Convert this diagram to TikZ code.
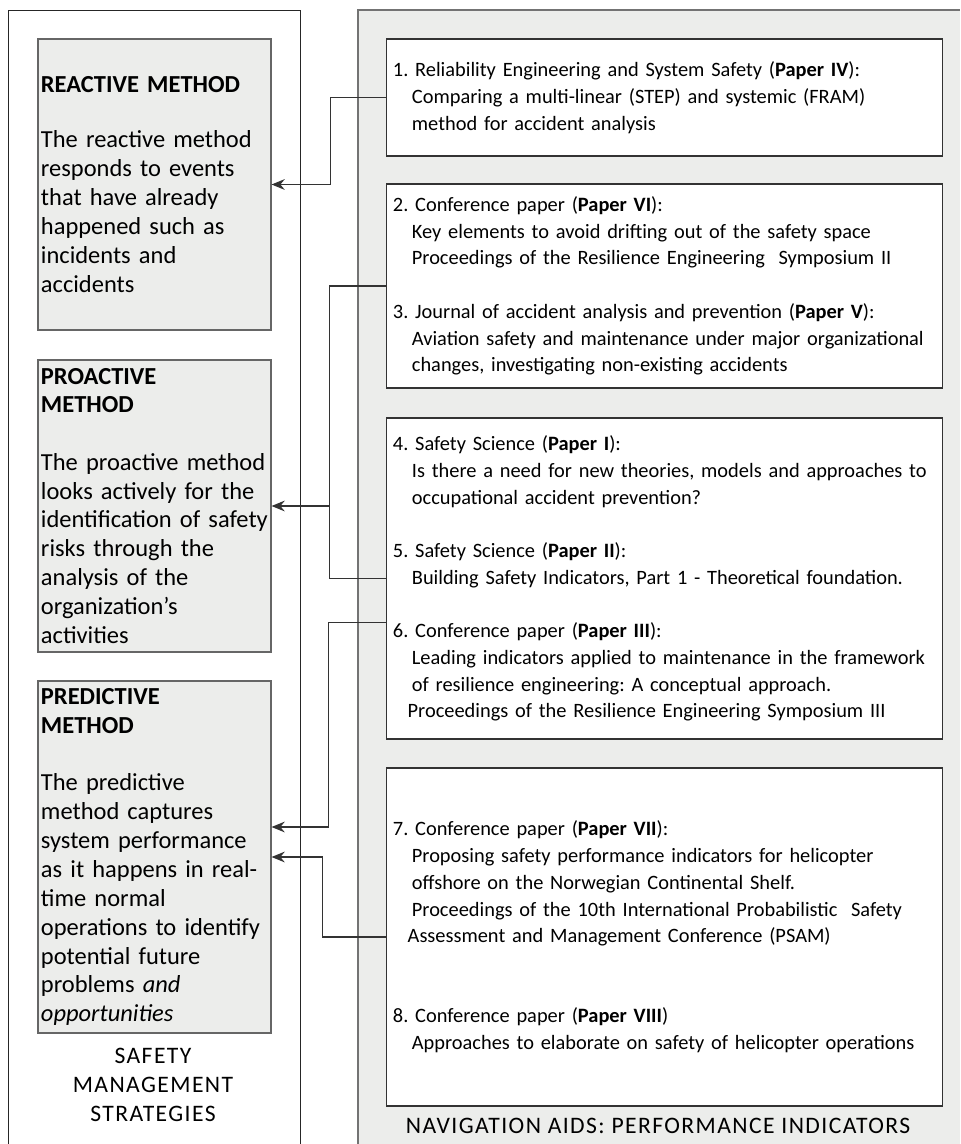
\documentclass[tikz,border=0pt]{standalone}
\usepackage{fontspec}
\setmainfont{Carlito}
\usetikzlibrary{arrows.meta,calc}
\definecolor{panelgray}{RGB}{236,237,235}
\newcommand{\pind}{\hspace*{13.5pt}}
\newcommand{\pindsm}{\hspace*{10.5pt}}
\frenchspacing
\tikzset{
  strategy/.style={draw=black!60, fill=panelgray, line width=0.8pt,
    minimum width=5.825cm, text width=5.675cm, inner sep=0.075cm, align=left,
    font=\fontsize{17.4}{20.6}\selectfont},
  paper/.style={draw=black!80, fill=white, line width=0.8pt,
    minimum width=13.875cm, text width=13.575cm, inner xsep=0.15cm, align=left,
    font=\fontsize{14.5}{19}\selectfont},
  caption/.style={align=center, inner sep=0pt,
    font={\fontsize{16.8}{20.6}\selectfont\addfontfeatures{LetterSpace=6}}},
  link/.style={draw=black!80, line width=0.75pt},
  arr/.style={link, -{Stealth[length=0.33cm, width=0.27cm, inset=0.11cm]}}
}
\begin{document}
\begin{tikzpicture}[x=0.025cm,y=-0.025cm]
    \useasboundingbox (0,0) rectangle (960,1144);
    % frames
    \fill[panelgray] (358,10) rectangle (960,1144);
    \draw[black!55, line width=0.8pt] (358,1144) -- (358,10) -- (960,10);
    \draw[black!85, line width=0.7pt] (8,1144) -- (8,10) -- (300,10) -- (300,1144);
    % strategies
    \node[strategy, minimum height=7.275cm] (re) at (154.5,184.5)
      {\textbf{REACTIVE METHOD}\\[19pt]
       The reactive method\\ responds to events\\ that have already\\
       happened such as\\ incidents and\\ accidents};
    \node[strategy, minimum height=7.3cm] (pr) at (154.5,506)
      {\textbf{PROACTIVE}\\ \textbf{METHOD}\\[20pt]
       The proactive method\\ looks actively for the\\ identification of safety\\
       risks through the\\ analysis of the\\ organization’s\\ activities};
    \node[strategy, minimum height=8.8cm] (pd) at (154.5,857)
      {\textbf{PREDICTIVE}\\ \textbf{METHOD}\\[20pt]
       The predictive\\ method captures\\ system performance\\ as it happens in real-\\
       time normal\\ operations to identify\\ potential future\\ problems \textit{and}\\
       \textit{opportunities}};
    \node[caption] (sms) at (153,1085) {SAFETY\\ MANAGEMENT\\ STRATEGIES};
    % papers
    \node[paper, minimum height=2.925cm] (b1) at (664.5,97.5)
      {1. Reliability Engineering and System Safety (\textbf{Paper IV}):\\
       \pind Comparing a multi-linear (STEP) and systemic (FRAM)\\
       \pind method for accident analysis};
    \node[paper, minimum height=5.1cm] (b2) at (664.5,286)
      {2. Conference paper (\textbf{Paper VI}):\\
       \pind Key elements to avoid drifting out of the safety space\\
       \pind Proceedings of the Resilience Engineering\ \ Symposium II\\[19pt]
       3. Journal of accident analysis and prevention (\textbf{Paper V}):\\
       \pind Aviation safety and maintenance under major organizational\\
       \pind changes, investigating non-existing accidents};
    \node[paper, minimum height=8.025cm] (b3) at (664.5,578.5)
      {4. Safety Science (\textbf{Paper I}):\\
       \pind Is there a need for new theories, models and approaches to\\
       \pind occupational accident prevention?\\[19pt]
       5. Safety Science (\textbf{Paper II}):\\
       \pind Building Safety Indicators, Part 1 - Theoretical foundation.\\[19pt]
       6. Conference paper (\textbf{Paper III}):\\
       \pind Leading indicators applied to maintenance in the framework\\
       \pind of resilience engineering: A conceptual approach.\\
       \pindsm Proceedings of the Resilience Engineering Symposium III};
    \node[paper, minimum height=8.45cm] (b4) at (664.5,937)
      {7. Conference paper (\textbf{Paper VII}):\\
       \pind Proposing safety performance indicators for helicopter\\
       \pind offshore on the Norwegian Continental Shelf.\\
       \pind Proceedings of the 10th International Probabilistic\ \ Safety\\
       \pindsm Assessment and Management Conference (PSAM)\\[38pt]
       8. Conference paper (\textbf{Paper VIII})\\
       \pind Approaches to elaborate on safety of helicopter operations};
    \node[caption] (nav) at (658,1126) {NAVIGATION AIDS: PERFORMANCE INDICATORS};
    % links
    \draw[arr] (b1.west) -- ++(-56,0) |- (re.east);
    \draw[link] (b2.west) -- ++(-57,0) coordinate (j2) |- (b3.west);
    \draw[arr] (j2 |- pr.east) -- (pr.east);
    \draw[arr] ($(b3.west)+(0,44)$) -- ++(-58,0) |- ($(pd.east)+(0,-30)$);
    \draw[arr] (b4.west) -- ++(-64,0) |- (pd.east);
\end{tikzpicture}
\end{document}
